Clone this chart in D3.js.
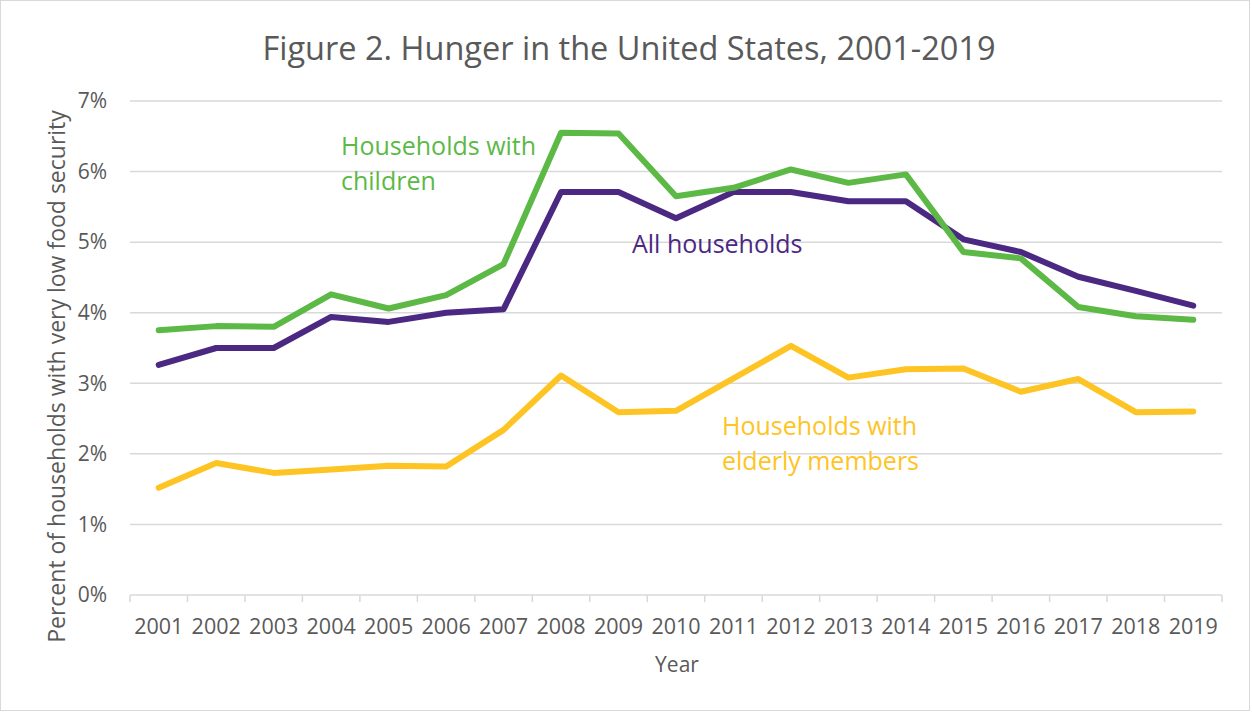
<!DOCTYPE html>
<html>
<head>
<meta charset="utf-8">
<script src="https://cdn.jsdelivr.net/npm/d3@7"></script>
<style>
  body { margin: 0; background: #fff; }
  text { font-family: "Open Sans", sans-serif; fill: #595959; }
</style>
</head>
<body>
<svg id="chart" width="1252" height="713"></svg>
<script>
// Data (percent of households)
const years = ["2001", "2002", "2003", "2004", "2005", "2006", "2007", "2008", "2009", "2010",
  "2011", "2012", "2013", "2014", "2015", "2016", "2017", "2018", "2019"];
const allHouseholds = [3.26, 3.50, 3.50, 3.94, 3.87, 4.00, 4.05, 5.71, 5.71, 5.34,
  5.71, 5.71, 5.58, 5.58, 5.04, 4.86, 4.51, 4.31, 4.10];
const withChildren = [3.75, 3.81, 3.80, 4.26, 4.06, 4.25, 4.69, 6.55, 6.54, 5.65,
  5.77, 6.03, 5.84, 5.96, 4.86, 4.77, 4.08, 3.95, 3.90];
const withElderly = [1.52, 1.87, 1.73, 1.78, 1.83, 1.82, 2.34, 3.11, 2.59, 2.61,
  3.07, 3.53, 3.08, 3.20, 3.21, 2.88, 3.06, 2.59, 2.60];
const yTicks = [0, 1, 2, 3, 4, 5, 6, 7];

const series = [
  { name: "All households", values: allHouseholds, color: "#4b2882" },
  { name: "Households with children", values: withChildren, color: "#5cb946" },
  { name: "Households with elderly members", values: withElderly, color: "#fec423" }
];

const svg = d3.select("#chart");
const W = 1252, H = 713;
const margin = { top: 101, right: 30, bottom: 118, left: 130 };

// Outer frame
svg.append("rect")
  .attr("x", 0.5).attr("y", 0.5)
  .attr("width", W - 3).attr("height", H - 3)
  .attr("fill", "#fff")
  .attr("stroke", "#d9d9d9");

const x = d3.scaleBand()
  .domain(years)
  .range([margin.left, W - margin.right])
  .padding(0);

const y = d3.scaleLinear()
  .domain([0, 7])
  .range([H - margin.bottom, margin.top]);

// Gridlines
svg.append("g")
  .selectAll("line")
  .data(yTicks)
  .join("line")
  .attr("x1", margin.left)
  .attr("x2", W - margin.right)
  .attr("y1", (d) => y(d))
  .attr("y2", (d) => y(d))
  .attr("stroke", "#d9d9d9")
  .attr("stroke-width", 1.5);

// Y tick labels
svg.append("g")
  .selectAll("text")
  .data(yTicks)
  .join("text")
  .attr("x", 107)
  .attr("y", (d) => y(d))
  .attr("dy", "0.35em")
  .attr("text-anchor", "end")
  .style("font-size", "21px")
  .text((d) => d + "%");

// X axis labels
const xAxis = svg.append("g")
  .attr("transform", `translate(0, ${y(0)})`)
  .call(d3.axisBottom(x).tickSize(0).tickPadding(24));
xAxis.select(".domain").remove();
xAxis.selectAll("text")
  .style("font-size", "21.5px")
  .style("font-family", "'Open Sans', sans-serif")
  .attr("fill", "#595959");

// Tick marks at band boundaries
const edges = years.map((d) => x(d)).concat([x(years[years.length - 1]) + x.bandwidth()]);
svg.append("g")
  .selectAll("line")
  .data(edges)
  .join("line")
  .attr("x1", (d) => d)
  .attr("x2", (d) => d)
  .attr("y1", y(0))
  .attr("y2", y(0) + 7)
  .attr("stroke", "#d9d9d9")
  .attr("stroke-width", 1.5);

// Lines
const line = d3.line()
  .x((d, i) => x(years[i]) + x.bandwidth() / 2)
  .y((d) => y(d));

svg.append("g")
  .selectAll("path")
  .data([series[2], series[0], series[1]])
  .join("path")
  .attr("d", (d) => line(d.values))
  .attr("fill", "none")
  .attr("stroke", (d) => d.color)
  .attr("stroke-width", 6)
  .attr("stroke-linejoin", "round")
  .attr("stroke-linecap", "round");

// Title
svg.append("text")
  .attr("x", 629)
  .attr("y", 60)
  .attr("text-anchor", "middle")
  .style("font-size", "32.5px")
  .text("Figure 2. Hunger in the United States, 2001-2019");

// Axis titles
svg.append("text")
  .attr("transform", `translate(65, ${(108 + 645) / 2}) rotate(-90)`)
  .attr("text-anchor", "middle")
  .style("font-size", "23px")
  .text("Percent of households with very low food security");

svg.append("text")
  .attr("x", 677)
  .attr("y", 672)
  .attr("text-anchor", "middle")
  .style("font-size", "21px")
  .text("Year");

// Series annotations
const notes = [
  { lines: ["Households with", "children"], x: 341, y: 155, color: series[1].color },
  { lines: ["All households"], x: 632, y: 253, color: series[0].color },
  { lines: ["Households with", "elderly members"], x: 722, y: 435, color: series[2].color }
];
notes.forEach((n) => {
  const t = svg.append("text")
    .attr("x", n.x)
    .attr("y", n.y)
    .style("font-size", "25px")
    .style("fill", n.color);
  n.lines.forEach((l, i) => {
    t.append("tspan").attr("x", n.x).attr("dy", i === 0 ? 0 : 35).text(l);
  });
});
</script>
</body>
</html>
